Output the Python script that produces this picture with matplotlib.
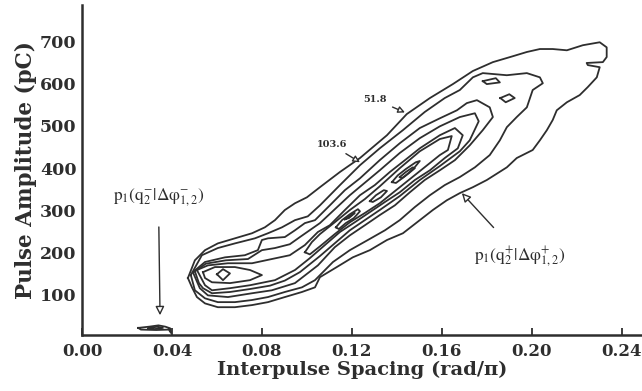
import numpy as np
import matplotlib
matplotlib.use("Agg")
import matplotlib.pyplot as plt

# contour lines, (spacing rad/pi, amplitude pC)
# level 51.8 - outermost
lvl1 = [(0.0471, 140), (0.0502, 182), (0.0547, 206), (0.0604, 222), (0.0680, 234),
        (0.0756, 246), (0.0813, 260), (0.0858, 277), (0.0902, 301), (0.0947, 317),
        (0.1000, 331), (0.1058, 355), (0.1147, 391), (0.1236, 424), (0.1356, 478),
        (0.1444, 528), (0.1547, 566), (0.1649, 599), (0.1738, 630), (0.1827, 651),
        (0.1916, 665), (0.1978, 675), (0.2036, 682), (0.2093, 682), (0.2156, 679),
        (0.2227, 691), (0.2302, 698), (0.2333, 686), (0.2333, 663), (0.2316, 651),
        (0.2244, 649), (0.2249, 644), (0.2302, 639), (0.2289, 615), (0.2249, 592),
        (0.2213, 573), (0.2156, 556), (0.2111, 537), (0.2093, 514), (0.2067, 490),
        (0.2036, 466), (0.2004, 443), (0.1933, 424), (0.1889, 402), (0.1800, 372),
        (0.1738, 355), (0.1680, 341), (0.1622, 324), (0.1560, 301), (0.1502, 277),
        (0.1427, 246), (0.1356, 230), (0.1280, 206), (0.1204, 189), (0.1133, 166),
        (0.1058, 142), (0.1036, 118), (0.0978, 107), (0.0902, 95), (0.0827, 83),
        (0.0756, 76), (0.0680, 71), (0.0604, 71), (0.0547, 80), (0.0511, 95),
        (0.0489, 118)]

# level 103.6
lvl2 = [(0.0484, 147), (0.0533, 194), (0.0604, 211), (0.0680, 222), (0.0769, 234),
        (0.0827, 246), (0.0889, 260), (0.0947, 277), (0.1004, 286), (0.1058, 312),
        (0.1147, 360), (0.1236, 407), (0.1324, 447), (0.1427, 490), (0.1524, 533),
        (0.1613, 566), (0.1680, 585), (0.1738, 615), (0.1782, 625), (0.1889, 620),
        (0.1978, 625), (0.2036, 615), (0.2049, 601), (0.2004, 585), (0.1978, 544),
        (0.1933, 521), (0.1889, 497), (0.1858, 466), (0.1813, 431), (0.1747, 402),
        (0.1680, 379), (0.1613, 360), (0.1547, 336), (0.1480, 308), (0.1413, 277),
        (0.1347, 253), (0.1271, 230), (0.1191, 206), (0.1116, 178), (0.1036, 135),
        (0.0978, 118), (0.0902, 107), (0.0827, 95), (0.0756, 88), (0.0680, 83),
        (0.0604, 83), (0.0547, 92), (0.0502, 111)]

# level 155.4
lvl3 = [(0.0493, 154), (0.0547, 178), (0.0636, 189), (0.0724, 194), (0.0782, 206),
        (0.0800, 230), (0.0827, 234), (0.0902, 237), (0.0947, 253), (0.0991, 270),
        (0.1036, 277), (0.1102, 312), (0.1169, 348), (0.1236, 376), (0.1324, 419),
        (0.1413, 459), (0.1502, 495), (0.1591, 518), (0.1667, 537), (0.1711, 554),
        (0.1756, 561), (0.1813, 544), (0.1827, 521), (0.1782, 490), (0.1724, 454),
        (0.1658, 419), (0.1591, 395), (0.1524, 372), (0.1458, 343), (0.1391, 312),
        (0.1324, 289), (0.1258, 265), (0.1191, 241), (0.1124, 213), (0.1049, 170),
        (0.0947, 128), (0.0844, 111), (0.0756, 104), (0.0649, 95), (0.0560, 99),
        (0.0524, 116)]

# level 207.2
lvl4 = [(0.0502, 156), (0.0551, 174), (0.0640, 182), (0.0738, 185), (0.0800, 206),
        (0.0858, 211), (0.0924, 220), (0.0969, 237), (0.1058, 270), (0.1191, 336),
        (0.1324, 395), (0.1413, 436), (0.1502, 471), (0.1591, 499), (0.1680, 521),
        (0.1747, 530), (0.1764, 511), (0.1724, 466), (0.1680, 440), (0.1591, 405),
        (0.1502, 372), (0.1413, 334), (0.1324, 301), (0.1191, 253), (0.1058, 192),
        (0.0969, 154), (0.0902, 134), (0.0836, 122), (0.0747, 114), (0.0658, 107),
        (0.0578, 104), (0.0538, 116), (0.0520, 128)]

# level 259
lvl5 = [(0.0511, 159), (0.0560, 170), (0.0649, 175), (0.0756, 175), (0.0844, 185),
        (0.0924, 194), (0.0991, 218), (0.1049, 249), (0.1102, 265), (0.1169, 301),
        (0.1236, 336), (0.1302, 360), (0.1369, 391), (0.1436, 419), (0.1502, 447),
        (0.1591, 478), (0.1658, 495), (0.1693, 478), (0.1671, 447), (0.1613, 424),
        (0.1547, 395), (0.1480, 372), (0.1413, 343), (0.1347, 320), (0.1280, 296),
        (0.1213, 272), (0.1147, 249), (0.1080, 218), (0.1013, 187), (0.0947, 159),
        (0.0858, 135), (0.0747, 123), (0.0658, 116), (0.0578, 111), (0.0547, 123)]

# level 310.8 - left lobe and central ridge
lvl6_left = [(0.0538, 154), (0.0591, 166), (0.0680, 166), (0.0747, 159), (0.0800, 147),
             (0.0747, 135), (0.0658, 128), (0.0578, 130), (0.0547, 140)]
lvl6_ridge = [(0.0991, 201), (0.1022, 225), (0.1058, 244), (0.1124, 272), (0.1191, 301),
              (0.1258, 327), (0.1324, 357), (0.1413, 400), (0.1502, 440), (0.1591, 469),
              (0.1644, 476), (0.1627, 443), (0.1591, 431), (0.1502, 393), (0.1413, 355),
              (0.1324, 317), (0.1258, 294), (0.1191, 272), (0.1124, 244), (0.1058, 215),
              (0.1013, 196)]

# level 362.6 peaks
lvl7_left = [(0.0600, 149), (0.0627, 161), (0.0658, 151), (0.0627, 135)]
lvl7_b = [(0.1129, 260), (0.1156, 277), (0.1191, 291), (0.1227, 303), (0.1236, 298),
          (0.1209, 282), (0.1173, 270), (0.1142, 256)]
lvl7_m = [(0.1280, 322), (0.1307, 336), (0.1342, 348), (0.1356, 346), (0.1329, 331),
          (0.1293, 320)]
lvl7_a = [(0.1378, 367), (0.1404, 383), (0.1440, 398), (0.1484, 414), (0.1502, 417),
          (0.1476, 400), (0.1436, 381), (0.1396, 365)]

# level 414.4 peaks
lvl8_a = [(0.1413, 379), (0.1440, 391), (0.1471, 402), (0.1480, 400), (0.1453, 388),
          (0.1422, 376)]
lvl8_b = [(0.1169, 279), (0.1196, 289), (0.1213, 294), (0.1187, 282)]

# small islands near the top right
island_a = [(0.1782, 606), (0.1840, 613), (0.1858, 603), (0.1800, 599)]
island_b = [(0.1860, 566), (0.1900, 575), (0.1924, 566), (0.1884, 556)]

# p1(q2-|...) blob down by the axis
blob_out = [(0.0250, 22), (0.0300, 25), (0.0340, 28), (0.0370, 25), (0.0392, 21),
            (0.0396, 10), (0.0386, 18), (0.0330, 17), (0.0262, 18)]
blob_in = [(0.0295, 21), (0.0335, 25), (0.0360, 22), (0.0320, 19)]

contours = [lvl1, lvl2, lvl3, lvl4, lvl5, lvl6_left, lvl6_ridge, lvl7_left, lvl7_b,
            lvl7_m, lvl7_a, lvl8_a, lvl8_b, island_a, island_b, blob_out, blob_in]

x_ticks = [0.00, 0.04, 0.08, 0.12, 0.16, 0.20, 0.24]
y_ticks = [100, 200, 300, 400, 500, 600, 700]

plt.rcParams["mathtext.fontset"] = "stix"
ink = "#2e2e2e"
serif = "DejaVu Serif"

fig = plt.figure(figsize=(6.42, 3.91), dpi=100)
ax = fig.add_axes([0.1277, 0.143, 0.8723, 0.844])

for c in contours:
    pts = np.array(c + [c[0]])
    ax.plot(pts[:, 0], pts[:, 1], color=ink, lw=1.3)

ax.set_xlim(0, 0.249)
ax.set_ylim(5, 786)
ax.spines["top"].set_visible(False)
ax.spines["right"].set_visible(False)
for s in ["left", "bottom"]:
    ax.spines[s].set_linewidth(1.8)
    ax.spines[s].set_color(ink)

ax.set_xticks(x_ticks)
ax.set_xticklabels(["{:.2f}".format(v) for v in x_ticks])
ax.set_yticks(y_ticks)
ax.tick_params(axis="x", direction="in", length=5, width=1.3, color=ink, pad=6)
ax.tick_params(axis="y", length=0, pad=4)
for lab in ax.get_xticklabels():
    lab.set_fontsize(12)
for lab in ax.get_yticklabels():
    lab.set_fontsize(12.5)
for lab in ax.get_xticklabels() + ax.get_yticklabels():
    lab.set_fontfamily(serif)
    lab.set_fontweight("bold")
    lab.set_color(ink)

ax.set_xlabel("Interpulse Spacing (rad/\u03c0)", fontfamily=serif,
              fontweight="bold", fontsize=14, color=ink, labelpad=0)
ax.set_ylabel("Pulse Amplitude (pC)", fontfamily=serif,
              fontweight="bold", fontsize=15.5, color=ink, labelpad=2)

head = dict(arrowstyle="-|>", fc="white", ec=ink, lw=1.0, mutation_scale=13)
ax.annotate(r"$\mathrm{p_1(q_2^{-}|\Delta\varphi^{-}_{1,2})}$", xy=(0.0347, 52),
            xytext=(0.0340, 330), ha="center", va="center", fontsize=12.5, color=ink,
            arrowprops=dict(head, shrinkA=11, shrinkB=0))
ax.annotate(r"$\mathrm{p_1(q_2^{+}|\Delta\varphi^{+}_{1,2})}$", xy=(0.1689, 341),
            xytext=(0.1947, 192), ha="center", va="center", fontsize=12.5, color=ink,
            arrowprops=dict(head, shrinkA=13, shrinkB=0))
ax.annotate("51.8", xy=(0.1436, 532), xytext=(0.1305, 562), ha="center", va="center",
            fontsize=7, fontweight="bold", fontfamily=serif, color=ink,
            arrowprops=dict(head, mutation_scale=10, shrinkA=2, shrinkB=0))
ax.annotate("103.6", xy=(0.1236, 414), xytext=(0.1110, 455), ha="center", va="center",
            fontsize=7, fontweight="bold", fontfamily=serif, color=ink,
            arrowprops=dict(head, mutation_scale=10, shrinkA=2, shrinkB=0))

fig.savefig("out.png", dpi=100)
